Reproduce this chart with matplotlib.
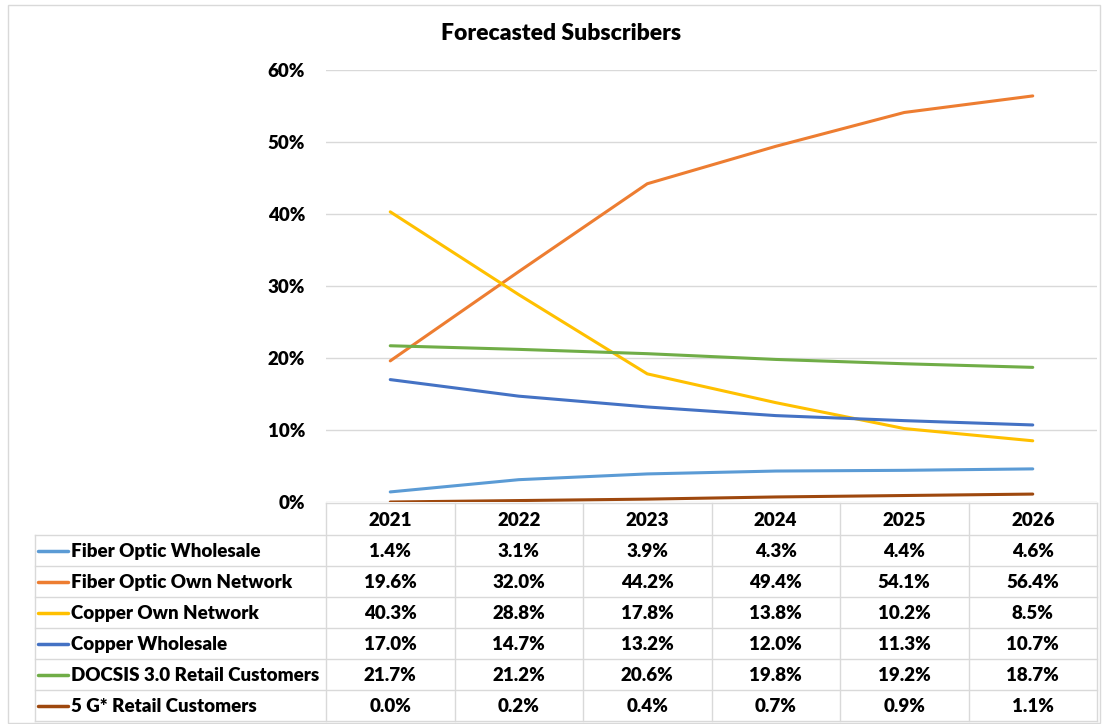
import matplotlib.pyplot as plt
from matplotlib.patches import Rectangle

years = ['2021', '2022', '2023', '2024', '2025', '2026']
series_names = [
    'Fiber Optic Wholesale',
    'Fiber Optic Own Network',
    'Copper Own Network',
    'Copper Wholesale',
    'DOCSIS 3.0 Retail Customers',
    '5 G* Retail Customers',
]
fiber_wholesale = [1.4, 3.1, 3.9, 4.3, 4.4, 4.6]
fiber_own = [19.6, 32.0, 44.2, 49.4, 54.1, 56.4]
copper_own = [40.3, 28.8, 17.8, 13.8, 10.2, 8.5]
copper_wholesale = [17.0, 14.7, 13.2, 12.0, 11.3, 10.7]
docsis = [21.7, 21.2, 20.6, 19.8, 19.2, 18.7]
g5_retail = [0.0, 0.2, 0.4, 0.7, 0.9, 1.1]
colors = ['#5B9BD5', '#ED7D31', '#FFC000', '#4472C4', '#70AD47', '#9E480E']

all_series = [fiber_wholesale, fiber_own, copper_own, copper_wholesale, docsis, g5_retail]

plt.rcParams['font.family'] = ['Lato', 'DejaVu Sans']
wt = 'heavy'

W, H = 1105, 724
fig = plt.figure(figsize=(W / 100, H / 100), dpi=100)

# pixel layout
x_left, x_right = 326, 1097
y_top, y_zero = 70, 502
ax = fig.add_axes([x_left / W, 1 - y_zero / H, (x_right - x_left) / W, (y_zero - y_top) / H])
xs = list(range(len(years)))
for vals, col, name in zip(all_series, colors, series_names):
    ax.plot(xs, vals, color=col, linewidth=2.2, label=name, solid_capstyle='round', zorder=3)
ax.set_xlim(-0.5, len(years) - 0.5)
ax.set_ylim(0, 60)
ax.set_yticks(range(0, 61, 10))
ax.set_yticklabels([f'{v}%' for v in range(0, 61, 10)], fontsize=13.5, fontweight=wt)
ax.tick_params(axis='y', length=0, pad=15)
ax.set_xticks([])
ax.grid(axis='y', color='#d9d9d9', linewidth=1)
for s in ax.spines.values():
    s.set_visible(False)

fig.text(561 / W, 1 - 33 / H, 'Forecasted Subscribers', ha='center', va='center',
         fontsize=16.5, fontweight=wt)

# overlay axes for data table, in pixel coords
tab = fig.add_axes([0, 0, 1, 1])
tab.set_xlim(0, W)
tab.set_ylim(H, 0)
tab.axis('off')
tab.patch.set_alpha(0)

grid_c = '#d9d9d9'
col_w = (x_right - x_left) / len(years)
row_edges = [503, 535, 566, 597, 628, 659, 690, 721]
leg_left = 35
fs = 13.5

# horizontal lines
tab.plot([x_left, x_right], [row_edges[0], row_edges[0]], color=grid_c, lw=1)
for y in row_edges[1:]:
    tab.plot([leg_left, x_right], [y, y], color=grid_c, lw=1)
# vertical lines
for i in range(len(years) + 1):
    x = x_left + i * col_w
    tab.plot([x, x], [row_edges[0], row_edges[-1]], color=grid_c, lw=1)
tab.plot([leg_left, leg_left], [row_edges[1], row_edges[-1]], color=grid_c, lw=1)

# header
for i, yr in enumerate(years):
    tab.text(x_left + (i + 0.5) * col_w, (row_edges[0] + row_edges[1]) / 2 + 1, yr,
             ha='center', va='center', fontsize=fs, fontweight=wt)

# rows
for r, (name, vals, col) in enumerate(zip(series_names, all_series, colors)):
    yc = (row_edges[r + 1] + row_edges[r + 2]) / 2
    tab.plot([38, 68], [yc, yc], color=col, lw=2.5, solid_capstyle='round')
    tab.text(71, yc + 1, name, ha='left', va='center', fontsize=fs, fontweight=wt)
    for i, v in enumerate(vals):
        tab.text(x_left + (i + 0.5) * col_w, yc + 1, f'{v:.1f}%', ha='center', va='center',
                 fontsize=fs, fontweight=wt)

# chart border
tab.add_patch(Rectangle((8, 5), 1092, 718, fill=False, edgecolor=grid_c, lw=1))

fig.savefig('out.png', dpi=100)
